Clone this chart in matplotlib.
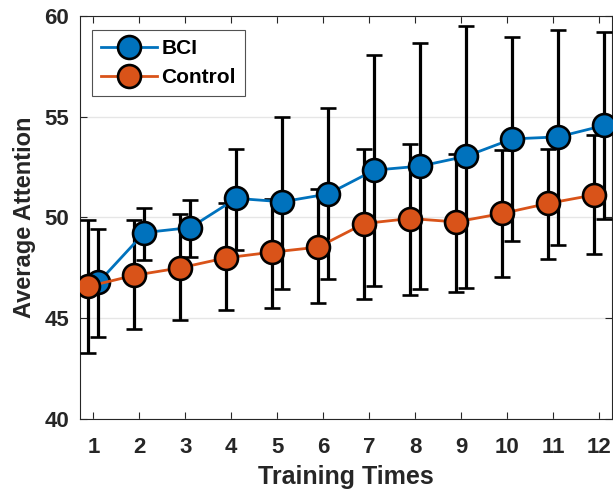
import numpy as np
import matplotlib
matplotlib.use("Agg")
import matplotlib.pyplot as plt

plt.rcParams["font.family"] = ["Liberation Sans", "DejaVu Sans"]
plt.rcParams["font.weight"] = "bold"

# training sessions
sessions = np.arange(1, 13)

# BCI group: mean and error bar ends
bci_mean = [46.78, 49.25, 49.5, 50.95, 50.78, 51.17, 52.35, 52.55, 53.04, 53.9, 54.0, 54.57]
bci_upper = [49.45, 50.45, 50.88, 53.4, 55.0, 55.45, 58.07, 58.65, 59.5, 58.96, 59.3, 59.2]
bci_lower = [44.08, 47.87, 48.03, 48.38, 46.45, 46.95, 46.58, 46.47, 46.5, 48.83, 48.63, 49.95]

# Control group: mean and error bar ends
ctrl_mean = [46.58, 47.13, 47.5, 48.0, 48.28, 48.53, 49.7, 49.95, 49.78, 50.2, 50.7, 51.12]
ctrl_upper = [49.87, 49.87, 50.17, 50.7, 50.9, 51.4, 53.42, 53.65, 53.17, 53.35, 53.42, 54.08]
ctrl_lower = [43.28, 44.45, 44.92, 45.42, 45.53, 45.75, 45.95, 46.17, 46.31, 47.03, 47.95, 48.17]

blue = "#0072BD"
orange = "#D95319"
shift = 0.11

fig = plt.figure(figsize=(6.13, 4.92), dpi=100)
ax = fig.add_axes([80 / 613, 73 / 492, 532 / 613, 403 / 492])

bm = np.array(bci_mean)
cm = np.array(ctrl_mean)
bci_err = [bm - np.array(bci_lower), np.array(bci_upper) - bm]
ctrl_err = [cm - np.array(ctrl_lower), np.array(ctrl_upper) - cm]

style = dict(lw=2.0, marker="o", ms=16.5, mec="black", mew=1.9,
             ecolor="black", elinewidth=2.3, capsize=5.5, capthick=2.3, zorder=3)
b = ax.errorbar(sessions + shift, bm, yerr=bci_err, color=blue, mfc=blue, **style)
c = ax.errorbar(sessions - shift, cm, yerr=ctrl_err, color=orange, mfc=orange, **style)

ax.set_xlim(0.71, 12.28)
ax.set_ylim(40, 60)
ax.set_xticks(sessions)
ax.set_yticks([40, 45, 50, 55, 60])
ax.yaxis.grid(True, color="#e6e6e6", lw=1)
ax.set_axisbelow(True)
ax.tick_params(direction="in", top=True, right=True, length=5, width=0.8,
               labelsize=16, colors="#262626", pad=8)
ax.tick_params(axis="x", pad=13)
for s in ax.spines.values():
    s.set_color("#262626")
    s.set_linewidth(0.8)

ax.set_xlabel("Training Times", fontsize=18, fontweight="bold", color="#262626", labelpad=5)
ax.set_ylabel("Average Attention", fontsize=17, fontweight="bold", color="#262626", labelpad=6)

# legend shows only line + marker, like the original
leg = ax.legend([b[0], c[0]], ["BCI", "Control"], loc="upper left", fontsize=15,
                handlelength=2.7, borderpad=0.45, labelspacing=0.45, handletextpad=0.2,
                borderaxespad=0, fancybox=False, bbox_to_anchor=(0.022, 0.965))
leg.get_frame().set_edgecolor("#262626")
leg.get_frame().set_linewidth(0.8)

fig.savefig("out.png", dpi=100)
